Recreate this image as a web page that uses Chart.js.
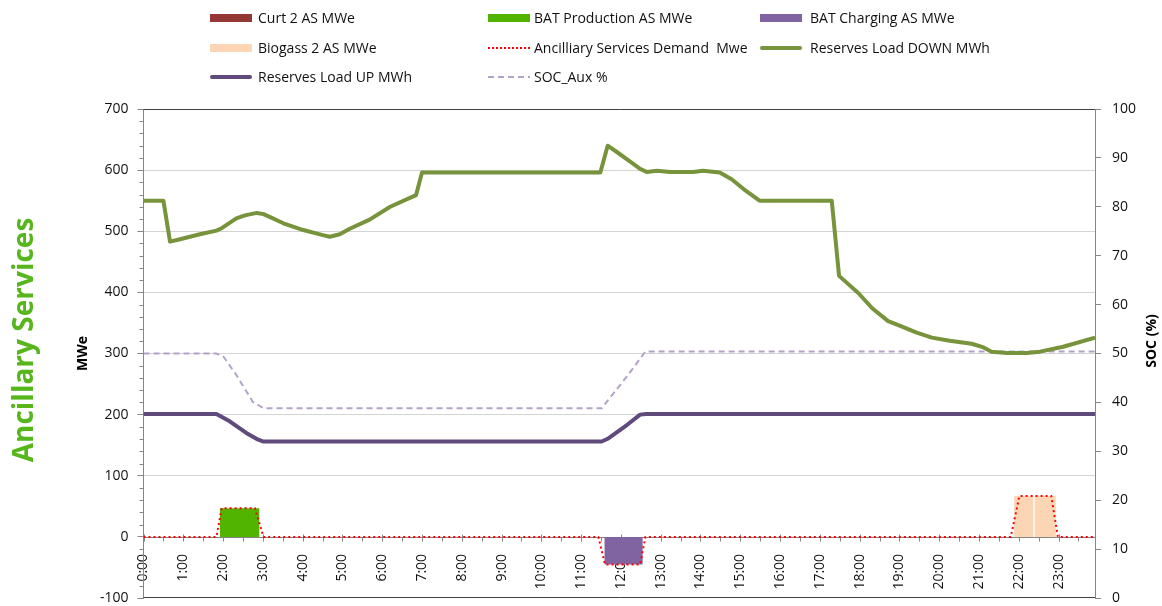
<!DOCTYPE html>
<html><head><meta charset="utf-8">
<script src="https://cdn.jsdelivr.net/npm/chart.js@4.4.1/dist/chart.umd.min.js"></script>
<style>
html,body{margin:0;padding:0;background:#fff;}
#wrap{position:relative;width:1162px;height:606px;overflow:hidden;background:#fff;}
canvas{position:absolute;left:0;top:0;}
.lg{position:absolute;font-family:"Open Sans",sans-serif;font-size:14px;color:#111;white-space:pre;line-height:18px;}
.sw{position:absolute;box-sizing:border-box;}
</style></head><body>
<div id="wrap"><canvas id="c" width="1162" height="606"></canvas><div id="legend"></div></div>
<script>
// ---------- data ----------
const hourLabels = ['0:00','1:00','2:00','3:00','4:00','5:00','6:00','7:00','8:00','9:00','10:00','11:00','12:00','13:00','14:00','15:00','16:00','17:00','18:00','19:00','20:00','21:00','22:00','23:00'];
const leftAxisTitle = 'MWe';
const rightAxisTitle = 'SOC (%)';
const sideTitle = 'Ancillary Services';

const curtTimes = ['0:00','23:55'];
const curtValues = [0,0];

const batProdTimes = ['1:55','1:55','2:55','2:55'];
const batProdValues = [0,47,47,0];

const batChargeTimes = ['11:35','11:35','12:33','12:33'];
const batChargeValues = [0,-45,-45,0];

const biogasTimes = ['21:53','21:53','22:22','22:22','22:24','22:24','22:56','22:56'];
const biogasValues = [0,67,67,0,0,67,67,0];

const demandTimes = ['0:00','1:50','1:58','2:48','3:01','11:26','11:36','12:29','12:37','21:48','22:01','22:49','22:59','23:55'];
const demandValues = [0,0,47,47,0,0,-45,-45,0,0,67,67,0,0];

const downTimes = ['0:00','0:30','0:40','0:55','1:25','1:50','1:58','2:20','2:33','2:51','3:01','3:11','3:31','4:01','4:29','4:41','4:56','5:11','5:41','6:12','6:51','7:00','11:29','11:40','11:56','12:14','12:29','12:39','12:54','13:14','13:49','14:04','14:29','14:47','15:05','15:29','17:18','17:29','17:58','18:19','18:43','19:04','19:26','19:49','20:16','20:49','21:07','21:19','21:42','22:12','22:32','23:07','23:55'];
const downValues = [550,550,483,487,495,501,505,521,526,530,528,523,513,502,494,491,495,504,519,540,559,596,596,640,628,614,602,597,599,597,597,599,596,585,569,550,550,427,399,374,353,344,334,326,321,316,310,303,301,301,303,311,326];

const upTimes = ['0:00','1:50','2:10','2:35','2:51','3:01','11:31','11:41','12:09','12:29','12:38','23:55'];
const upValues = [201,201,189,170,160,156,156,161,183,200,201,201];

const socTimes = ['0:00','1:50','2:01','2:20','2:45','3:01','11:31','11:41','12:09','12:37','23:55'];
const socValues = [50,50,49.3,45.6,40.1,38.8,38.8,40.5,45.3,50.4,50.4];

// ---------- helpers ----------
function toH(t){const p=t.split(':').map(Number);return p[0]+p[1]/60;}
function pts(times,values){return times.map((t,i)=>({x:toH(t),y:values[i]}));}
const FONT = '"Open Sans", sans-serif';

const decor = {
  id:'decor',
  beforeDatasetsDraw(chart){
    const {ctx, chartArea:a, scales:{x,y}} = chart;
    const y0 = Math.round(y.getPixelForValue(0)) + 0.5;
    ctx.save();
    ctx.strokeStyle = '#868686'; ctx.lineWidth = 1;
    ctx.beginPath(); ctx.moveTo(a.left, y0); ctx.lineTo(a.right, y0); ctx.stroke();
    for (let m = 0; m/60 <= x.max + 1e-9; m += 30) {
      const px = Math.round(x.getPixelForValue(m/60)) + 0.5;
      ctx.beginPath();
      if (m % 60 === 0) { ctx.moveTo(px, y0 - 3); ctx.lineTo(px, y0 + 4); }
      else { ctx.moveTo(px, y0); ctx.lineTo(px, y0 + 4); }
      ctx.stroke();
    }
    for (let v = y.min; v <= y.max; v += 20) {
      if (v % 100 === 0) continue;
      const py = Math.round(y.getPixelForValue(v)) + 0.5;
      ctx.beginPath(); ctx.moveTo(a.left - 4, py); ctx.lineTo(a.left, py); ctx.stroke();
    }
    ctx.restore();
  },
  afterDraw(chart){
    const {ctx, chartArea:a} = chart;
    ctx.save();
    ctx.strokeStyle = '#404040'; ctx.lineWidth = 1;
    ctx.beginPath();
    ctx.moveTo(a.left, Math.round(a.top)+0.5); ctx.lineTo(a.right, Math.round(a.top)+0.5);
    ctx.moveTo(a.left, Math.round(a.bottom)-0.5); ctx.lineTo(a.right, Math.round(a.bottom)-0.5);
    ctx.stroke();
    // side title
    ctx.fillStyle = '#56b61c';
    ctx.font = 'bold 28px ' + FONT;
    ctx.translate(33, 340); ctx.rotate(-Math.PI/2);
    ctx.textAlign = 'center'; ctx.textBaseline = 'alphabetic';
    ctx.fillText(sideTitle, 0, 0);
    ctx.restore();
    // right axis title
    ctx.save();
    ctx.fillStyle = '#000';
    ctx.font = 'bold 14px ' + FONT;
    ctx.translate(1152.5, 341); ctx.rotate(-Math.PI/2);
    ctx.textAlign = 'center'; ctx.textBaseline = 'middle';
    ctx.fillText(rightAxisTitle, 0, 0);
    ctx.restore();
  }
};

const datasets = [
  {label:'Curt 2 AS MWe', data:pts(curtTimes,curtValues), backgroundColor:'#953735', borderColor:'#953735', borderWidth:0, fill:'origin', order:8, legendType:'box'},
  {label:'BAT Production AS MWe', data:pts(batProdTimes,batProdValues), backgroundColor:'#50b400', borderColor:'#50b400', borderWidth:0, fill:'origin', order:5, legendType:'box'},
  {label:'BAT Charging AS MWe', data:pts(batChargeTimes,batChargeValues), backgroundColor:'#8064a2', borderColor:'#8064a2', borderWidth:0, fill:'origin', order:6, legendType:'box'},
  {label:'Biogass 2 AS MWe', data:pts(biogasTimes,biogasValues), backgroundColor:'#fcd5b5', borderColor:'#fcd5b5', borderWidth:0, fill:'origin', order:7, legendType:'box'},
  {label:'Ancilliary Services Demand  Mwe', data:pts(demandTimes,demandValues), borderColor:'#ff0000', borderWidth:2, borderDash:[2,3], fill:false, order:1, legendType:'dot'},
  {label:'Reserves Load DOWN MWh', data:pts(downTimes,downValues), borderColor:'#77933c', borderWidth:4, fill:false, order:2, borderJoinStyle:'round', legendType:'line'},
  {label:'Reserves Load UP MWh', data:pts(upTimes,upValues), borderColor:'#604a7b', borderWidth:4, fill:false, order:3, borderJoinStyle:'round', legendType:'line'},
  {label:'SOC_Aux %', data:pts(socTimes,socValues), borderColor:'#b3a2c7', borderWidth:2, borderDash:[6,4], fill:false, order:4, yAxisID:'y2', legendType:'dash'}
];
datasets.forEach(d=>{d.pointRadius=0; d.pointHoverRadius=0; d.tension=0;});

new Chart(document.getElementById('c'), {
  type:'line',
  data:{datasets},
  plugins:[decor],
  options:{
    responsive:false, animation:false, devicePixelRatio:1,
    layout:{padding:{left:70, right:0, top:109, bottom:8}},
    plugins:{legend:{display:false}, tooltip:{enabled:false}},
    scales:{
      x:{
        type:'linear', min:0, max:toH('23:55'), position:{y:0},
        afterFit(s){ s.height = 0; s.paddingTop = 0; s.paddingBottom = 0; },
        grid:{display:false}, border:{display:false},
        ticks:{stepSize:1, includeBounds:false, autoSkip:false, minRotation:90, maxRotation:90, padding:9,
          color:'#111', font:{family:FONT, size:14},
          callback:(v)=> hourLabels[v] !== undefined ? hourLabels[v] : ''}
      },
      y:{
        type:'linear', position:'left', min:-100, max:700,
        afterFit(s){ s.width = 73.5; s.paddingTop = 0; s.paddingBottom = 0; },
        ticks:{stepSize:100, padding:9, color:'#111', font:{family:FONT, size:14}},
        grid:{color:(c)=> (c.tick && (c.tick.value===0 || c.tick.value===-100 || c.tick.value===700)) ? 'rgba(0,0,0,0)' : '#d4d4d4',
              tickColor:'#868686', tickLength:6, lineWidth:1},
        border:{display:true, color:'#868686', width:1},
        title:{display:true, text:leftAxisTitle, color:'#000', font:{family:FONT, size:14, weight:'bold'}, padding:{top:5, bottom:0}}
      },
      y2:{
        type:'linear', position:'right', min:0, max:100,
        afterFit(s){ s.width = 67; s.paddingTop = 0; s.paddingBottom = 0; },
        ticks:{stepSize:10, padding:11, color:'#111', font:{family:FONT, size:14}},
        grid:{drawOnChartArea:false, tickColor:'#868686', tickLength:6},
        border:{display:true, color:'#868686', width:1}
      }
    }
  }
});

// ---------- HTML legend ----------
const colSwatchX = [210, 488, 760];
const colTextX = [258, 534, 810];
const rowY = [18, 47.5, 77];
const legendEl = document.getElementById('legend');
datasets.forEach((d,i)=>{
  const col = i % 3, row = Math.floor(i / 3);
  const sw = document.createElement('div');
  sw.className = 'sw';
  const cy = rowY[row];
  const w = 42;
  if (d.legendType === 'box') {
    sw.style.cssText = `left:${colSwatchX[col]}px;top:${cy-4}px;width:${w}px;height:8px;background:${d.backgroundColor};`;
  } else if (d.legendType === 'line') {
    sw.style.cssText = `left:${colSwatchX[col]}px;top:${cy-2}px;width:${w}px;height:4px;background:${d.borderColor};border-radius:2px;`;
  } else if (d.legendType === 'dot') {
    sw.style.cssText = `left:${colSwatchX[col]}px;top:${cy-1}px;width:${w}px;height:0;border-top:2px dotted ${d.borderColor};`;
  } else {
    sw.style.cssText = `left:${colSwatchX[col]}px;top:${cy-1}px;width:${w}px;height:2px;background:repeating-linear-gradient(90deg, ${d.borderColor} 0 6px, transparent 6px 10px);`;
  }
  legendEl.appendChild(sw);
  const t = document.createElement('div');
  t.className = 'lg';
  t.style.left = colTextX[col] + 'px';
  t.style.top = (cy - 9) + 'px';
  t.textContent = d.label;
  legendEl.appendChild(t);
});
</script>
</body></html>
